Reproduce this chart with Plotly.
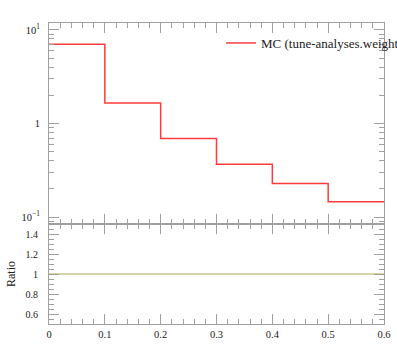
import plotly.graph_objects as go
from plotly.subplots import make_subplots

# Data
bin_edges = [0.0, 0.1, 0.2, 0.3, 0.4, 0.5, 0.6]
mc_values = [7.05, 1.66, 0.69, 0.366, 0.228, 0.146]
ratio_values = [1.0, 1.0, 1.0, 1.0, 1.0, 1.0]
legend_label = "MC (tune-analyses.weights)"
ytick_vals = [0.1, 1, 10]
ytick_text = ["10<sup>−1</sup>", "1", "10<sup>1</sup>"]
ratio_ticks = [0.6, 0.8, 1.0, 1.2, 1.4]
ratio_tick_text = ["0.6", "0.8", "1", "1.2", "1.4"]
xticks = [0, 0.1, 0.2, 0.3, 0.4, 0.5, 0.6]
xtick_text = ["0", "0.1", "0.2", "0.3", "0.4", "0.5", "0.6"]

W, H = 397, 358
ML, MR, MT, MB = 49, 13, 23, 34
ph = H - MT - MB
pw = W - ML - MR
split = 100 / ph

fig = make_subplots(rows=2, cols=1, shared_xaxes=True, vertical_spacing=0)

step_x = bin_edges
step_y = mc_values + [mc_values[-1]]
fig.add_trace(go.Scatter(x=step_x, y=step_y, mode="lines", line=dict(shape="hv", color="#ff3b3b", width=1.5),
                         name=legend_label, showlegend=True), row=1, col=1)
fig.add_trace(go.Scatter(x=step_x, y=ratio_values + [ratio_values[-1]], mode="lines",
                         line=dict(shape="hv", color="#aaaa5a", width=1.2), showlegend=False), row=2, col=1)

axcol = "#a0a0a0"
font = "Liberation Serif"
common_x = dict(range=[0, 0.6], showgrid=False, zeroline=False, showline=True, linecolor=axcol, linewidth=1,
                mirror="allticks", ticks="inside", ticklen=10, tickcolor=axcol, tickwidth=1,
                tickvals=xticks, ticktext=xtick_text,
                minor=dict(ticks="inside", ticklen=5, dtick=0.02, tickcolor=axcol, tickwidth=1, showgrid=False))
fig.update_xaxes(**common_x)
fig.update_xaxes(showticklabels=False, row=1, col=1)
fig.update_xaxes(showticklabels=True, tickfont=dict(family=font, size=10.5, color="#222"), ticklabelstandoff=0, row=2, col=1)

fig.update_yaxes(type="log", range=[-1.074, 1.074], showgrid=False, zeroline=False, showline=True, linecolor=axcol,
                 mirror="allticks", ticks="inside", ticklen=10, tickcolor=axcol, tickvals=ytick_vals, ticktext=ytick_text,
                 tickfont=dict(family=font, size=10.5, color="#222"), ticklabelstandoff=6,
                 minor=dict(ticks="inside", ticklen=5, dtick="D1", tickcolor=axcol, showgrid=False),
                 domain=[split, 1], row=1, col=1)
fig.update_yaxes(range=[0.5, 1.5], showgrid=False, zeroline=False, showline=True, linecolor=axcol,
                 mirror="allticks", ticks="inside", ticklen=10, tickcolor=axcol, tickvals=ratio_ticks, ticktext=ratio_tick_text,
                 tickfont=dict(family=font, size=10, color="#222"), ticklabelstandoff=8,
                 minor=dict(ticks="inside", ticklen=5, dtick=0.05, tickcolor=axcol, showgrid=False),
                 domain=[0, split], row=2, col=1)

fig.add_annotation(text="Ratio", textangle=-90, xref="paper", yref="paper",
                   x=(11 - ML) / pw, y=(H - MB - 274) / ph, showarrow=False,
                   font=dict(family=font, size=12, color="#222"), xanchor="center", yanchor="middle")

fig.update_layout(width=W, height=H, margin=dict(l=ML, r=MR, t=MT, b=MB, autoexpand=False),
                  paper_bgcolor="white", plot_bgcolor="white",
                  legend=dict(x=(221 - ML) / pw, y=(H - MB - 28) / ph, xanchor="left", yanchor="top",
                              bgcolor="rgba(0,0,0,0)", font=dict(family=font, size=13, color="#222"),
                              itemwidth=30, tracegroupgap=0),
                  showlegend=True)
fig.write_html("out.html", config={"displayModeBar": False},
               post_script="document.body.style.margin='0';")
